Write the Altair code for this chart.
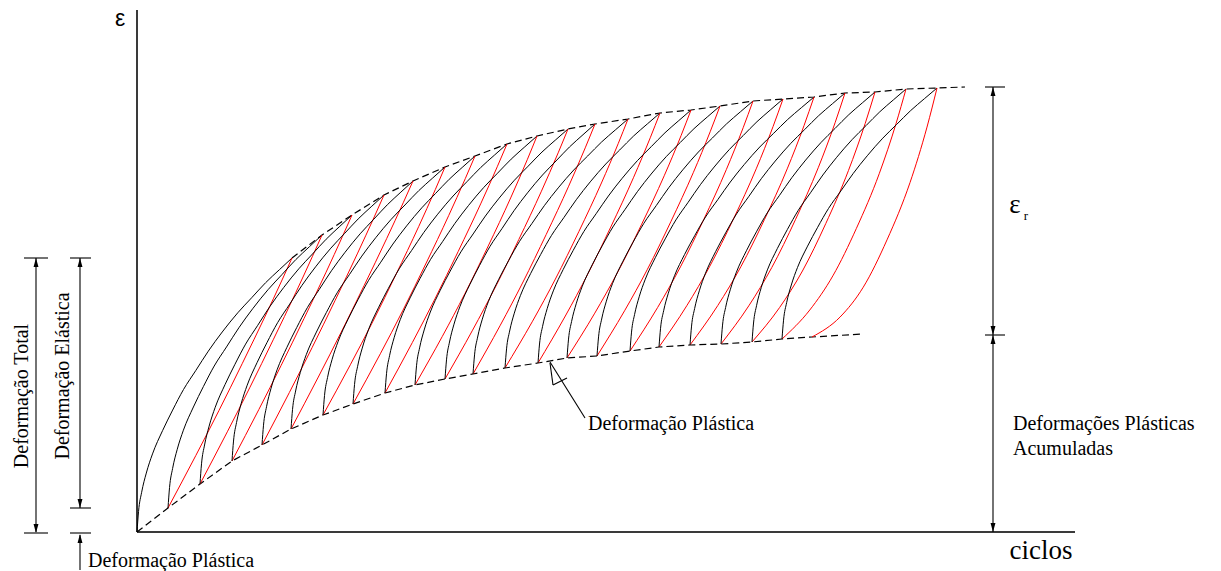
import altair as alt
import pandas as pd

# Peak of each loading branch: cycle position (n) and strain (e)
TOP_N = [155, 185, 215, 247, 276, 308, 338, 370, 400, 431, 458,
         491, 523, 554, 583, 616, 646, 677, 708, 738, 769, 800]
TOP_E = [274, 297, 317, 337, 351, 365, 376, 388, 396, 403, 408,
         413, 419, 422, 426, 431, 433, 435, 439, 440, 443, 444]

# Residual strain left after each unloading (first point is the origin)
BASE_N = [0, 31, 63, 95, 125, 154, 186, 216, 248, 278, 308, 336,
          368, 401, 430, 460, 493, 522, 553, 584, 615, 645, 675]
BASE_E = [0, 24, 48, 71, 87, 103, 117, 128, 139, 147, 153, 158,
          164, 169, 174, 176, 181, 185, 187, 188, 190, 193, 195]

# Dashed envelopes run a little past the last cycle
UPPER_END = (828, 445)
LOWER_END = (726, 198)

# Shape of a loading branch, as fractions of its span (start -> peak)
LOAD_FX = [0, 0.01, 0.03, 0.06, 0.10, 0.165, 0.23, 0.30, 0.38, 0.46,
           0.55, 0.65, 0.74, 0.83, 0.92, 1]
LOAD_FY = [0, 0.075, 0.145, 0.215, 0.285, 0.37, 0.445, 0.52, 0.59, 0.66,
           0.73, 0.80, 0.855, 0.91, 0.958, 1]

# Shape of a fully bent unloading branch (peak -> next residual point)
UNLOAD_FX = [0, 0.08, 0.216, 0.40, 0.59, 0.776, 1]
UNLOAD_FY = [0, 0.157, 0.38, 0.61, 0.80, 0.92, 1]
# How much each unloading branch bends (0 = straight, 1 = full bend)
UNLOAD_BEND = [0.1, 0.1, 0.1, 0.1, 0.1, 0.15, 0.15, 0.15, 0.2, 0.2, 0.2,
               0.25, 0.25, 0.3, 0.3, 0.35, 0.4, 0.45, 0.5, 0.6, 0.75, 1.0]

SERIF = "Liberation Serif"
SANS = "Liberation Sans"

X = alt.X("n:Q", scale=alt.Scale(domain=[-137, 1084], range=[0, 1221], nice=False, zero=False), axis=None)
Y = alt.Y("e:Q", scale=alt.Scale(domain=[-39, 532], range=[571, 0], nice=False, zero=False), axis=None)
X2 = alt.X2("n2:Q")
Y2 = alt.Y2("e2:Q")

# ---- loading (black) and unloading (red) branches ----
rows = []
for i in range(len(TOP_N)):
    n0, e0 = BASE_N[i], BASE_E[i]
    n1, e1 = TOP_N[i], TOP_E[i]
    for fx, fy in zip(LOAD_FX, LOAD_FY):
        rows.append({"id": f"L{i}", "kind": "load",
                     "n": n0 + fx * (n1 - n0), "e": e0 + fy * (e1 - e0)})
    n2, e2 = BASE_N[i + 1], BASE_E[i + 1]
    b = UNLOAD_BEND[i]
    for fx, fy in zip(UNLOAD_FX, UNLOAD_FY):
        f_e = fx + b * (fy - fx)
        rows.append({"id": f"U{i}", "kind": "unload",
                     "n": n1 - fx * (n1 - n2), "e": e1 - f_e * (e1 - e2)})
branches = pd.DataFrame(rows)

branch_layer = alt.Chart(branches).mark_line(
    interpolate="monotone", strokeWidth=1
).encode(
    x=X, y=Y, detail="id:N", order=alt.Order("n:Q"),
    color=alt.Color("kind:N", scale=alt.Scale(domain=["load", "unload"],
                                              range=["#000000", "#ff0000"]), legend=None),
)

# ---- envelopes ----
env = pd.DataFrame(
    [{"id": "top", "n": n, "e": e} for n, e in zip(TOP_N, TOP_E)]
    + [{"id": "top", "n": UPPER_END[0], "e": UPPER_END[1]}]
    + [{"id": "base", "n": n, "e": e} for n, e in zip(BASE_N, BASE_E)]
    + [{"id": "base", "n": LOWER_END[0], "e": LOWER_END[1]}]
)
env_layer = alt.Chart(env).mark_line(
    color="#000000", strokeWidth=1.2, strokeDash=[7, 4]
).encode(x=X, y=Y, detail="id:N", order=alt.Order("n:Q"))

# ---- axes and dimension lines ----
AXES = [(0, 0, 0, 522), (0, 0, 938, 0)]
DIMS = [
    # Deformação Total
    (-101, 274, -101, 0), (-113, 274, -89, 274), (-113, -1, -89, -1),
    # Deformação Elástica
    (-57, 274, -57, 24), (-67, 274, -46, 274), (-67, 24, -46, 24),
    # Deformação Plástica (bottom)
    (-67, -1, -46, -1), (-57, -3, -57, -38),
    # εr and accumulated plastic strain
    (856, 445, 856, 0), (848, 445, 868, 445), (848, 197, 868, 197),
    # leader to the plastic increment
    (413, 170, 448, 114), (413, 169, 416, 147), (416, 147, 430, 154),
]
seg = lambda lst: pd.DataFrame(lst, columns=["n", "e", "n2", "e2"])
axes_layer = alt.Chart(seg(AXES)).mark_rule(color="#3a3a3a", strokeWidth=2).encode(x=X, y=Y, x2=X2, y2=Y2)
dims_layer = alt.Chart(seg(DIMS)).mark_rule(color="#000000", strokeWidth=1.1).encode(x=X, y=Y, x2=X2, y2=Y2)

# ---- arrowheads (tip position, direction) ----
TIPS = [(-101, 274, "up"), (-101, -1, "down"), (-57, 274, "up"), (-57, 24, "down"),
        (-57, -2, "up"), (856, 445, "up"), (856, 197, "down"), (856, 197, "up"),
        (856, 0, "down")]
HALF = 4.5
heads = pd.DataFrame([{"n": n, "e": e - HALF if d == "up" else e + HALF, "d": d} for n, e, d in TIPS])
UP = "M0,-1L0.55,1L-0.55,1Z"
DOWN = "M0,1L0.55,-1L-0.55,-1Z"
heads_up = alt.Chart(heads[heads.d == "up"]).mark_point(
    shape=UP, filled=True, size=80, color="#000000", opacity=1, strokeWidth=0
).encode(x=X, y=Y)
heads_down = alt.Chart(heads[heads.d == "down"]).mark_point(
    shape=DOWN, filled=True, size=80, color="#000000", opacity=1, strokeWidth=0
).encode(x=X, y=Y)


def label(txt, n, e, size=20, align="left", angle=0, font=SERIF):
    return alt.Chart(pd.DataFrame({"n": [n], "e": [e], "t": [txt]})).mark_text(
        align=align, baseline="middle", angle=angle, font=font, fontSize=size, color="#000000"
    ).encode(x=X, y=Y, text="t:N")


labels = [
    label("ε", -17, 513, size=23, align="center", font=SANS),
    label("ciclos", 904, -19, size=27, align="center"),
    label("ε", 878, 327, size=27, align="center"),
    label("r", 889, 316, size=13, align="center"),
    label("Deformações Plásticas", 876, 108),
    label("Acumuladas", 876, 83),
    label("Deformação Plástica", 451, 108),
    label("Deformação Plástica", -49, -29),
    label("Deformação Total", -115, 136, align="center", angle=270),
    label("Deformação Elástica", -74, 156, align="center", angle=270),
]

chart = alt.layer(
    axes_layer, env_layer, branch_layer, dims_layer, heads_up, heads_down, *labels
).properties(
    width=1221, height=571, autosize=alt.AutoSizeParams(type="none"),
    padding=0, background="#ffffff"
).configure_view(stroke=None)

chart.save("out.html", embed_options={"renderer": "svg", "actions": False})
